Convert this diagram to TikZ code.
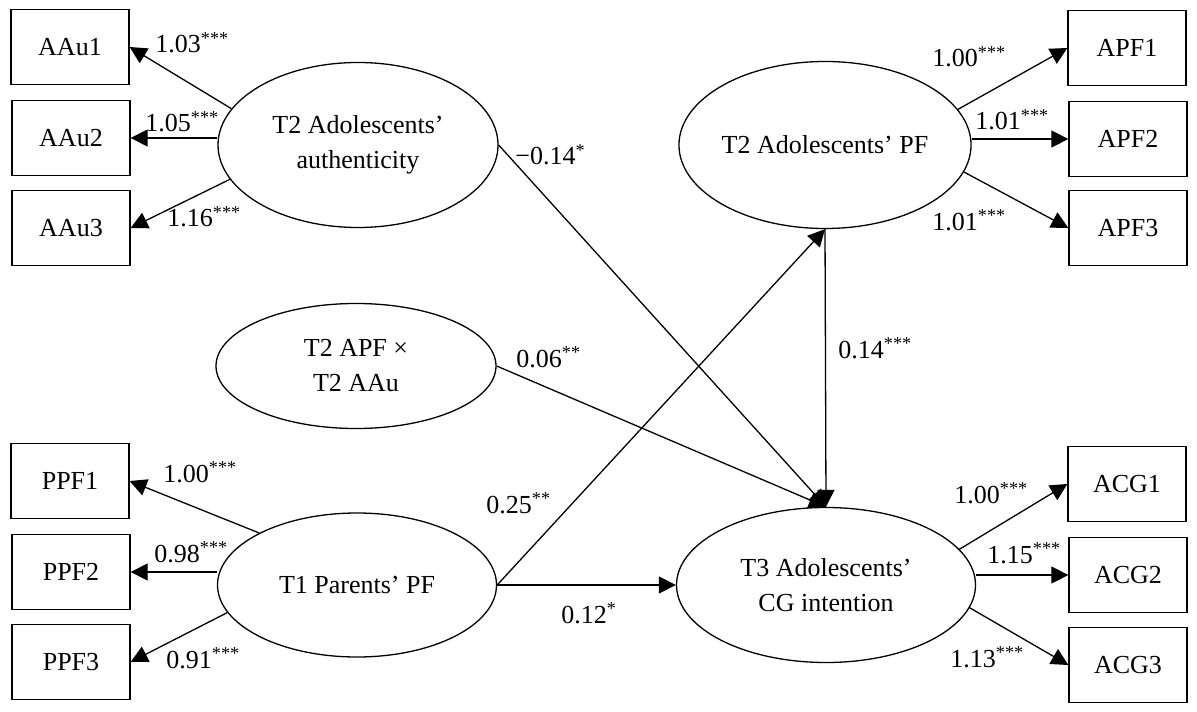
\documentclass[tikz,border=0pt]{standalone}
\usepackage{fontspec}
\setmainfont{Liberation Serif}
\usetikzlibrary{shapes.geometric,arrows.meta}

\begin{document}
\begin{tikzpicture}[x=0.5pt,y=-0.5pt,
	every node/.style={font=\fontsize{13}{17.5}\selectfont},
	obs/.style={draw,rectangle,minimum width=59pt,minimum height=37.5pt,inner sep=0pt,line width=0.65pt},
	lat/.style={draw,ellipse,inner sep=0pt,align=center,line width=0.65pt},
	coef/.style={anchor=base west,inner sep=0pt},
	load/.style={-{Triangle[length=8.5pt,width=8.5pt]},line width=0.65pt}]

				\useasboundingbox (0,0) rectangle (1197,711);

				% indicators
				\node[obs] (AAu1)	at (70,47)		{AAu1};
				\node[obs] (AAu2)	at (71,138)		{AAu2};
				\node[obs] (AAu3)	at (71,228)		{AAu3};
				\node[obs] (PPF1)	at (70,481)		{PPF1};
				\node[obs] (PPF2)	at (71,572)		{PPF2};
				\node[obs] (PPF3)	at (71,662)		{PPF3};
				\node[obs] (APF1)	at (1127,48)	{APF1};
				\node[obs] (APF2)	at (1128,139)	{APF2};
				\node[obs] (APF3)	at (1128,228)	{APF3};
				\node[obs] (ACG1)	at (1127,484)	{ACG1};
				\node[obs] (ACG2)	at (1128,575)	{ACG2};
				\node[obs] (ACG3)	at (1128,665)	{ACG3};

				% latent variables
				\node[lat,minimum width=140pt,minimum height=82.5pt] (AAu)		at (358,145)	{T2 Adolescents’\\authenticity};
				\node[lat,minimum width=146pt,minimum height=83.5pt] (APF)		at (825,145)	{T2 Adolescents’ PF};
				\node[lat,minimum width=140pt,minimum height=62.5pt] (APFxAAu)	at (356,366)	{T2 APF ×\\T2 AAu};
				\node[lat,minimum width=139.5pt,minimum height=72pt] (PPF)		at (357,585)	{T1 Parents’ PF};
				\node[lat,minimum width=149.5pt,minimum height=77.5pt] (ACG)	at (826,585)	{T3 Adolescents’\\CG intention};

				\path[load]
				(AAu.164)			edge (AAu1.east)
				(AAu.west |- AAu2)	edge (AAu2)
				(AAu.195)			edge (AAu3.east)
				(AAu.east)			edge (ACG.north)
				(APF.15)			edge (APF1.west)
				(APF.east |- APF2)	edge (APF2)
				(APF.-11)			edge (APF3.west)
				(APF.south)			edge (ACG.north)
				(APFxAAu.east)		edge (ACG.north)
				(PPF.152)			edge (PPF1.east)
				(PPF.west |- PPF2)	edge (PPF2)
				(PPF.192)			edge (PPF3.east)
				(PPF.east)			edge (APF.south)
									edge (ACG)
				(ACG.15)			edge (ACG1.west)
				(ACG.east |- ACG2)	edge (ACG2)
				(ACG.-9)			edge (ACG3.west);

				% coefficients
				\node[coef] (wAAu1)		at (155,53)		{1.03\textsuperscript{***}};
				\node[coef] (wAAu2)		at (145,132)	{1.05\textsuperscript{***}};
				\node[coef] (wAAu3)		at (167,227)	{1.16\textsuperscript{***}};
				\node[coef] (bAAuACG)	at (515,165)	{−0.14\textsuperscript{*}};
				\node[coef] (wAPF1)		at (932,67)		{1.00\textsuperscript{***}};
				\node[coef] (wAPF2)		at (975,130)	{1.01\textsuperscript{***}};
				\node[coef] (wAPF3)		at (932,230)	{1.01\textsuperscript{***}};
				\node[coef] (bAPFACG)	at (838,358)	{0.14\textsuperscript{***}};
				\node[coef] (bIntACG)	at (516,367)	{0.06\textsuperscript{**}};
				\node[coef] (wPPF1)		at (163,482)	{1.00\textsuperscript{***}};
				\node[coef] (wPPF2)		at (154,562)	{0.98\textsuperscript{***}};
				\node[coef] (wPPF3)		at (166,668)	{0.91\textsuperscript{***}};
				\node[coef] (bPPFAPF)	at (486,513)	{0.25\textsuperscript{**}};
				\node[coef] (bPPFACG)	at (561,623)	{0.12\textsuperscript{*}};
				\node[coef] (wACG1)		at (954,503)	{1.00\textsuperscript{***}};
				\node[coef] (wACG2)		at (987,563)	{1.15\textsuperscript{***}};
				\node[coef] (wACG3)		at (950,667)	{1.13\textsuperscript{***}};

\end{tikzpicture}
\end{document}
